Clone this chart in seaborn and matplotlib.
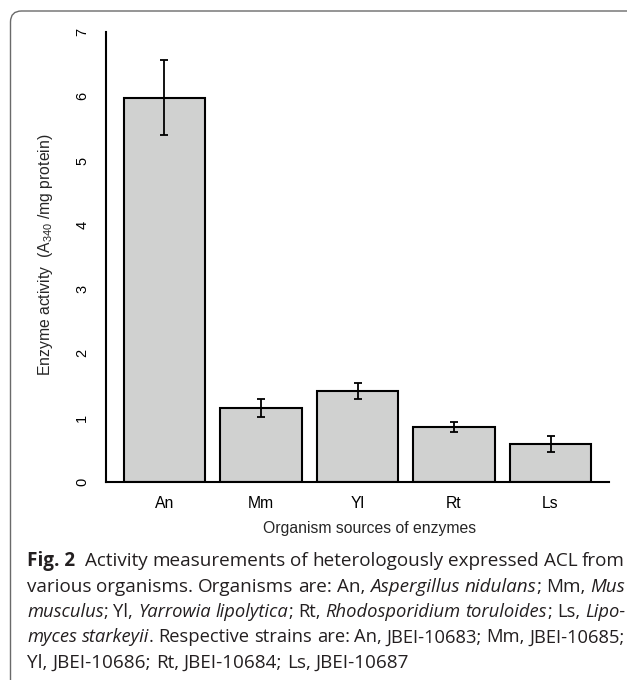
import re
import matplotlib
matplotlib.use("Agg")
import matplotlib.pyplot as plt
from matplotlib.patches import FancyBboxPatch
from matplotlib.transforms import IdentityTransform
import seaborn as sns
import pandas as pd

# ---- data ----
organisms = ["An", "Mm", "Yl", "Rt", "Ls"]
activity = [5.98, 1.145, 1.42, 0.855, 0.59]
errors = [0.58, 0.14, 0.127, 0.075, 0.125]
y_ticks = [0, 1, 2, 3, 4, 5, 6, 7]
x_label = "Organism sources of enzymes"
y_label = r"Enzyme activity  (A$_{340}$ /mg protein)"
caption_lines = [
    "**Fig.~2**  Activity measurements of heterologously expressed ACL from",
    "various organisms. Organisms are: An, *Aspergillus* *nidulans*; Mm, *Mus*",
    "*musculus*; Yl, *Yarrowia* *lipolytica*; Rt, *Rhodosporidium* *toruloides*; Ls, *Lipo-*",
    "*myces* *starkeyii*. Respective strains are: An, JBEI-10683; Mm, JBEI-10685;",
    "Yl, JBEI-10686; Rt, JBEI-10684; Ls, JBEI-10687",
]

sns.set_style("white")
plt.rcParams["font.family"] = ["Liberation Sans", "DejaVu Sans"]
plt.rcParams["mathtext.fontset"] = "custom"
plt.rcParams["mathtext.rm"] = "Liberation Sans"
plt.rcParams["mathtext.it"] = "Liberation Sans:italic"

W, H = 627, 680
fig = plt.figure(figsize=(W / 100, H / 100), dpi=100)
ax_left, ax_right, ax_top, ax_bot = 106, 609, 32, 482
ax = fig.add_axes([ax_left / W, 1 - ax_bot / H, (ax_right - ax_left) / W, (ax_bot - ax_top) / H])

df = pd.DataFrame({"organism": organisms, "activity": activity})
sns.barplot(data=df, x="organism", y="activity", color="#d0d1d0", saturation=1,
            edgecolor="black", linewidth=1.5, width=0.84, errorbar=None, ax=ax, zorder=2)
ax.errorbar(x=list(range(len(organisms))), y=activity, yerr=errors, fmt="none",
            ecolor="black", elinewidth=1.3, capsize=2.6, capthick=1.3, zorder=3)

ax.set_xlim(-0.606, 4.606)
ax.set_ylim(0, 7)
ax.set_yticks(y_ticks)
ax.set_yticklabels([str(t) for t in y_ticks])
ax.tick_params(axis="y", length=7, width=1.4, pad=5, color="black", labelcolor="black",
               labelsize=10.5, labelrotation=90)
for lab in ax.get_yticklabels():
    lab.set_va("center")
ax.tick_params(axis="x", length=0, pad=10, labelsize=11.3, labelcolor="black")

for s in ["top", "right"]:
    ax.spines[s].set_visible(False)
ax.spines["left"].set_linewidth(1.5)
ax.spines["left"].set_color("black")
ax.spines["left"].set_bounds(0, 7)
ax.spines["bottom"].set_linewidth(1.5)
ax.spines["bottom"].set_color("black")
ax.spines["bottom"].set_zorder(4)

ax.set_xlabel(x_label, fontsize=11.3, va="center")
ax.xaxis.set_label_coords((370 - ax_left) / (ax_right - ax_left), (ax_bot - 528) / (ax_bot - ax_top))
ax.set_ylabel(y_label, fontsize=11.3, va="center")
ax.yaxis.set_label_coords((46 - ax_left) / (ax_right - ax_left), (ax_bot - 255) / (ax_bot - ax_top))

# ---- rounded border ----
border = FancyBboxPatch((10.5, -30), 660, H - 11 + 30,
                        boxstyle="round,pad=0,rounding_size=11",
                        transform=IdentityTransform(), fill=False,
                        edgecolor="#6a6a6a", linewidth=1.0)
fig.patches.append(border)

# ---- caption (justified) ----
cap_font = ["Open Sans", "DejaVu Sans"]
base_size = 13.6
cap_color = "#231f20"
styles = {
    "r": dict(fontstyle="normal", fontweight="normal"),
    "i": dict(fontstyle="italic", fontweight="normal"),
    "b": dict(fontstyle="normal", fontweight="bold"),
}
renderer = fig.canvas.get_renderer()


def parse_word(word):
    segs = []
    for m in re.finditer(r"\*\*(.+?)\*\*|\*(.+?)\*|([^*]+)", word):
        if m.group(1) is not None:
            segs.append((m.group(1).replace("~", " "), "b"))
        elif m.group(2) is not None:
            segs.append((m.group(2).replace("~", " "), "i"))
        else:
            segs.append((m.group(3).replace("~", " "), "r"))
    return segs


def seg_width(txt, st, size):
    t = fig.text(0, 0, txt, family=cap_font, fontsize=size, **styles[st])
    w = t.get_window_extent(renderer).width
    t.remove()
    return w


x0, x1 = 27, 625
baselines = [566, 591.5, 617, 642.5, 668]
for li, line in enumerate(caption_lines):
    toks = line.split(" ")
    words, gaps = [], []
    pending = 0
    for tk in toks:
        if tk == "":
            pending += 1
            continue
        if words:
            gaps.append(1 + pending)
        pending = 0
        words.append(parse_word(tk))
    justify = li < len(caption_lines) - 1
    size = base_size
    space_w = seg_width("x x", "r", size) - seg_width("xx", "r", size)
    total = sum(seg_width(t, s, size) for w in words for t, s in w)
    natural = total + space_w * sum(gaps)
    if justify and natural > (x1 - x0):
        size = base_size * (x1 - x0) / natural
        space_w = seg_width("x x", "r", size) - seg_width("xx", "r", size)
    wwidths = [[seg_width(t, s, size) for t, s in w] for w in words]
    total = sum(sum(w) for w in wwidths)
    if justify and gaps:
        unit = (x1 - x0 - total) / sum(gaps)
    else:
        unit = space_w
    x = x0
    for wi, (w, ws) in enumerate(zip(words, wwidths)):
        for (t, s), sw in zip(w, ws):
            fig.text(x / W, 1 - baselines[li] / H, t, family=cap_font, fontsize=size,
                     color=cap_color, va="baseline", ha="left", **styles[s])
            x += sw
        if wi < len(gaps):
            x += unit * gaps[wi]

fig.savefig("out.png", dpi=100)
